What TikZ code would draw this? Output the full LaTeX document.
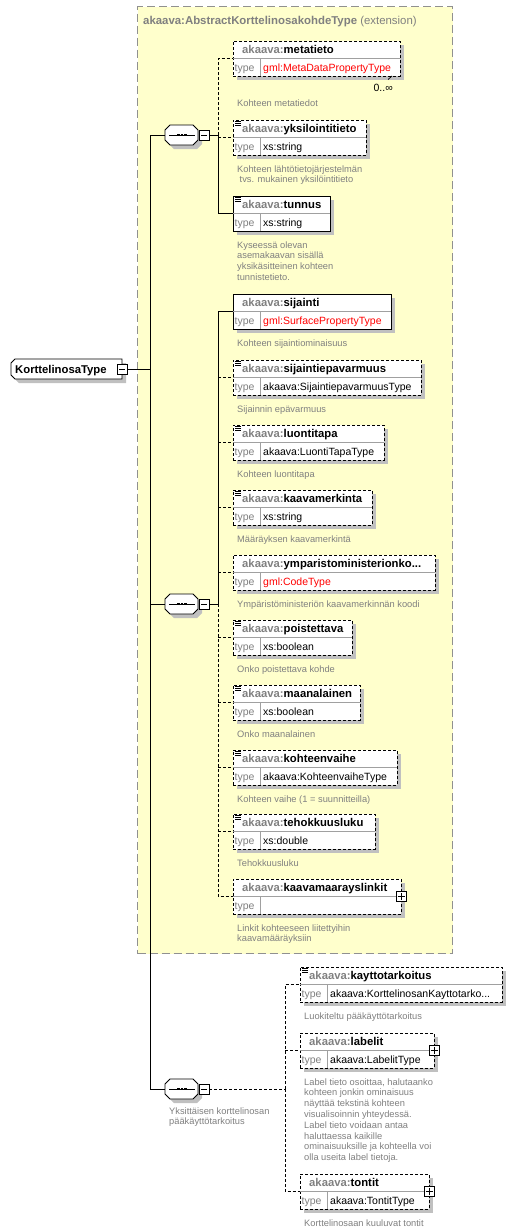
\documentclass[tikz,border=0pt]{standalone}
\usepackage{fontspec}
\setmainfont{Liberation Sans}
\usetikzlibrary{calc}
\definecolor{cbg}{HTML}{FFFFCC}
\definecolor{tg}{HTML}{808080}
\definecolor{cshd}{HTML}{C0C0C0}
\definecolor{cext}{HTML}{909090}
\definecolor{cdiv}{HTML}{A0A0A0}
\definecolor{xred}{HTML}{FF0000}
\tikzset{
 optb/.style={draw=black,dash pattern=on 3pt off 2pt,fill=white,line width=0.9pt},
 reqb/.style={draw=black,fill=white,line width=0.9pt},
 dv/.style={draw=cdiv,line width=0.8pt},
 ln/.style={draw=black,line width=0.9pt},
 dl/.style={draw=black,line width=0.9pt,dash pattern=on 3pt off 2pt},
 nm/.style={anchor=base west,inner sep=0pt,font={\fontsize{11.3pt}{13pt}\selectfont\bfseries}},
 ty/.style={anchor=base west,inner sep=0pt,font={\fontsize{10.5pt}{12pt}\selectfont}},
 an/.style={anchor=base west,inner sep=0pt,text=tg,font={\fontsize{9.3pt}{10.8pt}\selectfont}},
 tt/.style={anchor=base west,inner sep=0pt,text=tg,font={\fontsize{11.4pt}{13pt}\selectfont}},
 pbox/.style={draw=black,fill=white,minimum size=10pt,inner sep=0pt,line width=0.9pt},
 mbox/.style={draw=black,fill=white,minimum size=10pt,inner sep=0pt,line width=0.9pt},
 seqa/.style={minimum width=33pt,minimum height=20pt,inner sep=0pt,outer sep=0pt},
 octo/.style={draw=black,fill=white,line width=0.9pt},
 extbox/.style={draw=cext,fill=cbg,line width=1.2pt,dash pattern=on 8pt off 4pt,inner sep=0pt}
}
\newcommand\lines[1]{\begin{tabular}[t]{@{}l@{}}#1\end{tabular}}
% element: id, x, y, width, name, type, border style
\newcommand\xel[7]{%
 \fill[cshd] (#2+4,#3+4) rectangle (#2+#4+4,#3+39);
 \node[#7,minimum width=#4pt,minimum height=35pt,anchor=north west,inner sep=0pt,outer sep=0pt] (#1) at (#2,#3) {};
 \draw[dv] (#1.west) -- (#1.east);
 \draw[dv] ([xshift=27pt]#1.west) -- ([xshift=27pt]#1.south west);
 \node[nm] (#1-n) at ([xshift=9pt,yshift=-12pt]#1.north west) {\textcolor{tg}{akaava:}#5};
 \node[ty] (#1-k) at ([xshift=1.5pt,yshift=-30pt]#1.north west) {\textcolor{tg}{type}};
 \node[ty] (#1-t) at ([xshift=30pt,yshift=-30pt]#1.north west) {#6};
}
\newcommand\xan[3]{\node[an] (#1-a) at ([xshift=4pt,yshift=-#2pt]#1.north west) {\lines{#3}};}
\newcommand\xic[1]{\foreach \k in {1.2,3.2,5.2}{\draw[line width=0.8pt] ([xshift=2pt,yshift=-\k pt]#1.north west) -- ([xshift=8pt,yshift=-\k pt]#1.north west);}}
\newcommand\xpl[1]{\node[pbox] (#1-p) at (#1.east) {};
 \draw[line width=0.9pt] ([xshift=-3.5pt]#1-p.center) -- ([xshift=3.5pt]#1-p.center);
 \draw[line width=0.9pt] ([yshift=-3.5pt]#1-p.center) -- ([yshift=3.5pt]#1-p.center);}
\newcommand\octpath[2]{(#1-16.5,#2-5) -- (#1-11.5,#2-10) -- (#1+11.5,#2-10) -- (#1+16.5,#2-5) -- (#1+16.5,#2+5) -- (#1+11.5,#2+10) -- (#1-11.5,#2+10) -- (#1-16.5,#2+5) -- cycle}
\newcommand\xsq[3]{%
 \fill[cshd] \octpath{#2+4}{#3+4};
 \draw[octo] \octpath{#2}{#3};
 \node[seqa] (#1) at (#2,#3) {};
 \draw[line width=0.9pt] (#2-12.5,#3) -- (#2+13.5,#3);
 \foreach \d in {-3.6,0,3.6}{\fill (#2+0.5+\d-1.4,#3-1.4) rectangle (#2+0.5+\d+1.4,#3+1.4);}
 \node[mbox] (#1-m) at (#2+22.5,#3) {};
 \draw[line width=0.9pt] ([xshift=-3pt]#1-m.center) -- ([xshift=3pt]#1-m.center);
}
\begin{document}
\begin{tikzpicture}[x=1pt,y=-1pt]
\path[use as bounding box,fill=white] (0,0) rectangle (530,1232);
% extension box
\node[extbox,minimum width=315pt,minimum height=947pt,anchor=north west] (ext) at (137,6) {};
\node[tt] (title) at (143,24) {\textbf{akaava:AbstractKorttelinosakohdeType} (extension)};
% root
\fill[cshd] (15,363) -- (19,363) -- (126,363) -- (126,383) -- (19,383) -- (15,379) -- cycle;
\draw[octo] (11,363) -- (15,359) -- (122,359) -- (122,379) -- (15,379) -- (11,375) -- cycle;
\node[minimum width=111pt,minimum height=20pt,inner sep=0pt] (root) at (66.5,369) {};
\node[nm] (root-t) at (15,373) {KorttelinosaType};
\node[mbox] (root-m) at (122,369) {};
\draw[line width=0.9pt] ([xshift=-3pt]root-m.center) -- ([xshift=3pt]root-m.center);
% sequences
\xsq{s1}{181.5}{135}
\xsq{s2}{181.5}{604}
\xsq{s3}{181.5}{1089}
% elements sequence 1
\xel{metatieto}{233}{41}{167}{metatieto}{\textcolor{xred}{gml:MetaDataPropertyType}}{optb}
\node[ty,anchor=base east] (metatieto-o) at (393,91) {0..∞};
\draw[line width=0.7pt] (metatieto.south east) ++(-8,0) -- ++(-4,3.5) coordinate (mtick);
\xan{metatieto}{65}{Kohteen metatiedot}
\xel{yks}{233}{120}{133}{yksilointitieto}{xs:string}{optb}\xic{yks}
\xan{yks}{52}{Kohteen lähtötietojärjestelmän\\\hspace*{2.5pt}tvs. mukainen yksilöintitieto}
\xel{tunnus}{233}{196}{97}{tunnus}{xs:string}{reqb}\xic{tunnus}
\xan{tunnus}{52}{Kyseessä olevan\\asemakaavan sisällä\\yksikäsitteinen kohteen\\tunnistetieto.}
% sequence 2
\xel{sijainti}{233}{294}{158}{sijainti}{\textcolor{xred}{gml:SurfacePropertyType}}{reqb}
\xan{sijainti}{52}{Kohteen sijaintiominaisuus}
\xel{sepa}{233}{360}{188}{sijaintiepavarmuus}{akaava:SijaintiepavarmuusType}{optb}\xic{sepa}
\xan{sepa}{52}{Sijainnin epävarmuus}
\xel{luon}{233}{425}{151}{luontitapa}{akaava:LuontiTapaType}{optb}\xic{luon}
\xan{luon}{52}{Kohteen luontitapa}
\xel{kmer}{233}{490}{139}{kaavamerkinta}{xs:string}{optb}\xic{kmer}
\xan{kmer}{52}{Määräyksen kaavamerkintä}
\xel{ympa}{233}{555}{202}{ymparistoministerionko...}{\textcolor{xred}{gml:CodeType}}{optb}
\xan{ympa}{52}{Ympäristöministeriön kaavamerkinnän koodi}
\xel{pois}{233}{620}{119}{poistettava}{xs:boolean}{optb}\xic{pois}
\xan{pois}{52}{Onko poistettava kohde}
\xel{maan}{233}{685}{127}{maanalainen}{xs:boolean}{optb}\xic{maan}
\xan{maan}{52}{Onko maanalainen}
\xel{kohv}{233}{750}{164}{kohteenvaihe}{akaava:KohteenvaiheType}{optb}\xic{kohv}
\xan{kohv}{52}{Kohteen vaihe (1 = suunnitteilla)}
\xel{teho}{233}{814}{142}{tehokkuusluku}{xs:double}{optb}\xic{teho}
\xan{teho}{52}{Tehokkuusluku}
\xel{kmlk}{233}{879}{168}{kaavamaarayslinkit}{}{optb}\xpl{kmlk}
\xan{kmlk}{52}{Linkit kohteeseen liitettyihin\\kaavamääräyksiin}
% sequence 3
\xel{kayt}{300}{967}{202}{kayttotarkoitus}{akaava:KorttelinosanKayttotarko...}{optb}\xic{kayt}
\xan{kayt}{52}{Luokiteltu pääkäyttötarkoitus}
\xel{labe}{300}{1033}{134}{labelit}{akaava:LabelitType}{optb}\xpl{labe}
\xan{labe}{52}{Label tieto osoittaa, halutaanko\\kohteen jonkin ominaisuus\\näyttää tekstinä kohteen\\visualisoinnin yhteydessä.\\Label tieto voidaan antaa\\haluttaessa kaikille\\ominaisuuksille ja kohteella voi\\olla useita label tietoja.}
\xel{tont}{300}{1174}{129}{tontit}{akaava:TontitType}{optb}\xpl{tont}
\xan{tont}{52}{Korttelinosaan kuuluvat tontit}
\node[an] (s3-a) at (169,1114) {\lines{Yksittäisen korttelinosan\\pääkäyttötarkoitus}};
% connectors
\coordinate (vr) at (150,369);
\coordinate (v1) at (150,135);
\coordinate (v3) at (150,1089);
\coordinate (b1) at (218,135);
\coordinate (b2) at (218,604);
\coordinate (b3) at (285,1089);
\draw[ln] (root-m.east) -- (vr);
\draw[ln] (v1) -- (v3);
\draw[ln] (v1) -- (s1.west);
\draw[ln] (vr |- s2.west) -- (s2.west);
\draw[ln] (v3) -- (s3.west);
\draw[ln] (s1-m.east) -- (b1);
\draw[dl] (b1) -- (b1 |- metatieto.west) -- (metatieto.west);
\draw[dl] (b1 |- yks.west) -- (yks.west);
\draw[ln] (b1) -- (b1 |- tunnus.west) -- (tunnus.west);
\draw[ln] (s2-m.east) -- (b2);
\draw[ln] (b2) -- (b2 |- sijainti.west) -- (sijainti.west);
\foreach \e in {sepa,luon,kmer,ympa,pois,maan,kohv,teho}{\draw[dl] (b2 |- \e.west) -- (\e.west);}
\draw[dl] (b2) -- (b2 |- kmlk.west) -- (kmlk.west);
\draw[dl] (s3-m.east) -- (b3);
\draw[dl] (b3) -- (b3 |- kayt.west) -- (kayt.west);
\draw[dl] (b3 |- labe.west) -- (labe.west);
\draw[dl] (b3) -- (b3 |- tont.west) -- (tont.west);
\end{tikzpicture}
\end{document}
